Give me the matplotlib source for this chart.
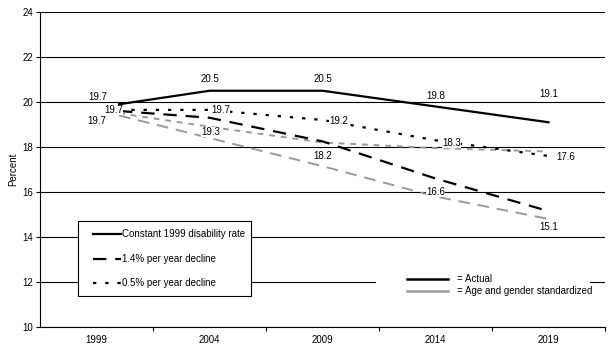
import matplotlib.pyplot as plt
from matplotlib.patches import Rectangle
from matplotlib.lines import Line2D

plt.rcParams['font.family'] = ['Liberation Sans', 'DejaVu Sans']
plt.rcParams['font.size'] = 7

# data
tick_years = [1999, 2004, 2009, 2014, 2019]
years = [2000, 2004, 2009, 2014, 2019]
const_actual = [19.9, 20.5, 20.5, 19.8, 19.1]
decl14_actual = [19.6, 19.3, 18.25, 16.6, 15.15]
decl05_actual = [19.65, 19.65, 19.2, 18.3, 17.6]
decl14_std = [19.4, 18.4, 17.15, 15.8, 14.8]
decl05_std = [19.5, 18.9, 18.2, 17.95, 17.8]

value_labels = ['19.7', '19.7', '19.7', '20.5', '20.5', '19.8', '19.1',
                '19.7', '19.3', '19.2', '18.2', '18.3', '17.6', '16.6', '15.1']

GRAY = '#9a9a9a'

fig = plt.figure(figsize=(6.16, 3.54), dpi=100)
ax = fig.add_axes([40/616, 27/354, 565/616, 315/354])

ax.plot(years, decl05_std, color=GRAY, lw=1.4, ls=(0, (3, 3)))
ax.plot(years, decl14_std, color=GRAY, lw=1.4, ls=(0, (6, 4)))
ax.plot(years, decl05_actual, color='black', lw=1.6, ls=(0, (1.5, 4)))
ax.plot(years, decl14_actual, color='black', lw=1.6, ls=(0, (6, 4)))
ax.plot(years, const_actual, color='black', lw=1.6)

ax.set_xlim(1996.5, 2021.5)
ax.set_ylim(10, 24)
ax.set_yticks(range(10, 25, 2))
ax.yaxis.grid(True, color='black', lw=0.8)
ax.set_axisbelow(True)
ax.set_xticks(tick_years)
ax.set_xticklabels([str(y) for y in tick_years])
ax.set_xticks([2001.5, 2006.5, 2011.5, 2016.5, 2021.5], minor=True)
ax.tick_params(axis='x', which='major', length=0, pad=6)
ax.tick_params(axis='x', which='minor', length=3, direction='out', width=0.8)
ax.tick_params(axis='y', length=3, width=0.8, pad=2)
for s in ['top', 'right']:
    ax.spines[s].set_visible(False)
ax.spines['left'].set_linewidth(0.8)
ax.spines['bottom'].set_linewidth(0.8)
ax.set_ylabel('Percent', labelpad=3)

# value labels
spots = [(1999.05, 20.22, 'center'), (1999.35, 19.66, 'left'), (1999.0, 19.16, 'center'),
         (2004.0, 21.0, 'center'), (2009.0, 21.0, 'center'), (2014.0, 20.27, 'center'),
         (2019.0, 20.36, 'center'), (2004.5, 19.64, 'center'), (2004.05, 18.67, 'center'),
         (2009.7, 19.16, 'center'), (2009.0, 17.6, 'center'), (2014.7, 18.18, 'center'),
         (2019.75, 17.56, 'center'), (2014.0, 16.0, 'center'), (2019.0, 14.44, 'center')]
for (x, y, ha), txt in zip(spots, value_labels):
    ax.text(x, y, txt, ha=ha, va='center', fontsize=7,
            bbox=dict(facecolor='white', edgecolor='none', pad=0.1))

# legend with line styles (boxed)
def px(x, y):
    return ((x - 40) / 565, (327 - y) / 315)

x0, y0 = px(78, 296)
x1, y1 = px(251, 221)
ax.add_patch(Rectangle((x0, y0), x1 - x0, y1 - y0, transform=ax.transAxes,
                       facecolor='white', edgecolor='black', lw=0.8, zorder=5))
entries = [('Constant 1999 disability rate', '-'),
           ('1.4% per year decline', (0, (6, 4))),
           ('0.5% per year decline', (0, (1.5, 4)))]
for (label, ls), yy in zip(entries, [234, 259, 283]):
    a, b = px(93, yy)
    c, _ = px(121, yy)
    ax.add_line(Line2D([a, c], [b, b], transform=ax.transAxes, color='black',
                       lw=1.6, ls=ls, zorder=6))
    t, _ = px(122, yy)
    ax.text(t, b, label, transform=ax.transAxes, va='center', ha='left',
            fontsize=7, zorder=6)

# legend with colours (no border)
x0, y0 = px(376, 302)
x1, y1 = px(590, 268)
ax.add_patch(Rectangle((x0, y0), x1 - x0, y1 - y0, transform=ax.transAxes,
                       facecolor='white', edgecolor='none', zorder=5))
for (label, col), yy in zip([('= Actual', 'black'),
                             ('= Age and gender standardized', GRAY)], [279, 291]):
    a, b = px(407, yy)
    c, _ = px(448, yy)
    ax.add_line(Line2D([a, c], [b, b], transform=ax.transAxes, color=col,
                       lw=1.8, zorder=6))
    t, _ = px(457, yy)
    ax.text(t, b, label, transform=ax.transAxes, va='center', ha='left',
            fontsize=7, zorder=6)

fig.savefig('out.png', dpi=100)
